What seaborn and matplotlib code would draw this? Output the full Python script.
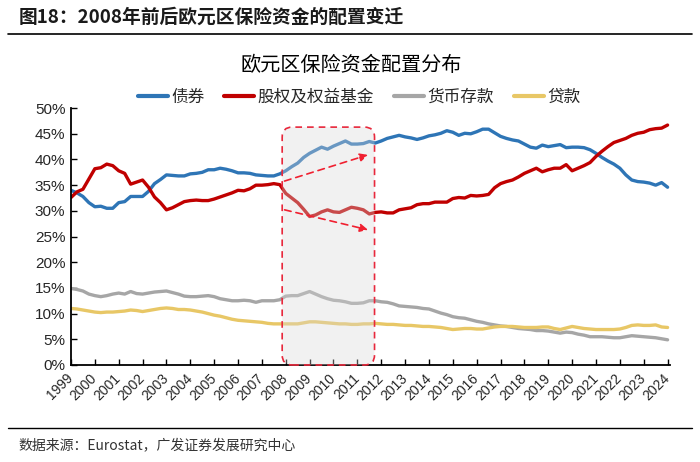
import numpy as np
import pandas as pd
import matplotlib.pyplot as plt
import seaborn as sns
from matplotlib.patches import FancyBboxPatch
from matplotlib.lines import Line2D
from matplotlib.ticker import FuncFormatter

sns.set_style("ticks")
plt.rcParams['font.family'] = ['Noto Sans CJK SC', 'DejaVu Sans']

# 季度数据 1999Q1 - 2024Q1（单位：%）
quarters = 1999 + np.arange(101) / 4.0
assets = ['债券', '股权及权益基金', '货币存款', '贷款']
colors = ['#2E75B6', '#C00000', '#A6A6A6', '#E8C766']
year_labels = [str(y) for y in range(1999, 2025)]

bonds = [34.0, 33.5, 32.8, 31.6, 30.8, 30.9, 30.5, 30.5, 31.6, 31.8,
         32.8, 32.8, 32.8, 33.8, 35.3, 36.1, 37.0, 36.9, 36.8, 36.8,
         37.2, 37.3, 37.5, 38.0, 38.0, 38.3, 38.1, 37.8, 37.4, 37.4,
         37.3, 37.0, 36.9, 36.8, 36.8, 37.2, 37.8, 38.6, 39.3, 40.4,
         41.2, 41.8, 42.4, 42.0, 42.6, 43.1, 43.6, 43.0, 43.0, 43.1,
         43.5, 43.2, 43.6, 44.1, 44.4, 44.7, 44.4, 44.2, 43.9, 44.2,
         44.6, 44.8, 45.1, 45.6, 45.3, 44.7, 45.1, 45.0, 45.4, 45.9,
         45.9, 45.2, 44.5, 44.1, 43.8, 43.6, 43.0, 42.4, 42.2, 42.8,
         42.5, 42.7, 42.9, 42.3, 42.4, 42.4, 42.3, 41.9, 41.2, 40.4,
         39.7, 39.1, 38.3, 37.0, 36.0, 35.7, 35.6, 35.4, 35.0, 35.5,
         34.6]
equity = [32.6, 33.7, 34.2, 36.2, 38.2, 38.4, 39.1, 38.8, 37.8, 37.3,
          35.2, 35.6, 36.0, 34.6, 32.7, 31.6, 30.2, 30.6, 31.2, 31.8,
          32.0, 32.1, 32.0, 32.0, 32.3, 32.7, 33.1, 33.5, 34.0, 33.9,
          34.3, 35.0, 35.0, 35.1, 35.3, 35.1, 33.4, 32.5, 31.6, 30.3,
          28.9, 29.2, 29.8, 30.2, 29.8, 29.7, 30.2, 30.7, 30.5, 30.2,
          29.4, 29.7, 29.8, 29.6, 29.6, 30.2, 30.4, 30.6, 31.2, 31.4,
          31.4, 31.7, 31.7, 31.7, 32.4, 32.6, 32.5, 33.0, 32.9, 33.0,
          33.2, 34.5, 35.3, 35.7, 36.0, 36.6, 37.3, 37.8, 38.3, 37.6,
          38.0, 38.3, 38.3, 39.0, 37.8, 38.3, 38.8, 39.4, 40.6, 41.6,
          42.5, 43.3, 43.7, 44.1, 44.7, 45.1, 45.3, 45.8, 46.0, 46.1,
          46.7]
deposits = [14.9, 14.7, 14.4, 13.8, 13.5, 13.3, 13.5, 13.8, 14.0, 13.8,
            14.3, 13.9, 13.8, 14.0, 14.2, 14.3, 14.4, 14.1, 13.8, 13.4,
            13.3, 13.3, 13.4, 13.5, 13.3, 12.9, 12.7, 12.5, 12.5, 12.6,
            12.5, 12.2, 12.5, 12.5, 12.5, 12.7, 13.4, 13.5, 13.5, 13.9,
            14.3, 13.8, 13.3, 12.9, 12.6, 12.5, 12.3, 12.0, 12.0, 12.1,
            12.5, 12.5, 12.3, 12.2, 11.9, 11.5, 11.4, 11.3, 11.2, 11.0,
            10.9, 10.5, 10.1, 9.8, 9.4, 9.2, 9.1, 8.8, 8.5, 8.3,
            8.0, 7.8, 7.6, 7.5, 7.3, 7.1, 7.0, 6.9, 6.7, 6.7,
            6.6, 6.4, 6.2, 6.4, 6.3, 6.0, 5.8, 5.5, 5.5, 5.5,
            5.4, 5.3, 5.3, 5.5, 5.7, 5.6, 5.5, 5.4, 5.3, 5.1,
            4.9]
loans = [11.0, 10.9, 10.7, 10.5, 10.3, 10.2, 10.3, 10.3, 10.4, 10.5,
         10.7, 10.6, 10.4, 10.6, 10.8, 11.0, 11.1, 11.0, 10.8, 10.8,
         10.7, 10.5, 10.3, 10.0, 9.7, 9.5, 9.2, 8.9, 8.7, 8.6,
         8.5, 8.4, 8.3, 8.1, 8.0, 8.0, 8.0, 8.0, 8.0, 8.2,
         8.4, 8.4, 8.3, 8.2, 8.1, 8.0, 8.0, 7.9, 7.9, 8.0,
         8.0, 8.1, 8.0, 7.9, 7.9, 7.8, 7.7, 7.7, 7.6, 7.5,
         7.5, 7.4, 7.3, 7.1, 6.9, 7.0, 7.1, 7.1, 7.0, 7.0,
         7.2, 7.4, 7.5, 7.5, 7.5, 7.4, 7.3, 7.3, 7.3, 7.4,
         7.4, 7.1, 6.9, 7.2, 7.5, 7.3, 7.1, 7.0, 6.9, 6.9,
         6.9, 6.9, 7.0, 7.3, 7.7, 7.8, 7.7, 7.7, 7.8, 7.4,
         7.3]

# 2008 前后的高亮区间与趋势箭头
box_start, box_end, box_top = 2007.85, 2011.72, 46.3
bond_arrow = [(2007.95, 35.8), (2011.45, 40.9)]
equity_arrow = [(2007.95, 30.2), (2011.45, 26.3)]

df = pd.DataFrame({
    'date': np.tile(quarters, 4),
    'share': np.concatenate([bonds, equity, deposits, loans]),
    'asset': np.repeat(assets, len(quarters)),
})

fig = plt.figure(figsize=(7, 4.62), dpi=100)
ax = fig.add_axes([0.1014, 0.21, 0.8557, 0.556])

sns.lineplot(data=df, x='date', y='share', hue='asset', hue_order=assets,
             palette=colors, linewidth=2.4, legend=False, ax=ax)

ax.set_xlim(1999, 2024.1)
ax.set_ylim(0, 50)
ax.set_yticks(np.arange(0, 51, 5))
ax.yaxis.set_major_formatter(FuncFormatter(lambda v, p: f'{v:.0f}%'))
ax.set_xticks(range(1999, 2025))
ax.set_xticklabels(year_labels, rotation=45, ha='right', va='center',
                   rotation_mode='anchor', family=['Liberation Sans'], fontsize=10)
for lab in ax.get_yticklabels():
    lab.set_family(['Liberation Sans'])
    lab.set_fontsize(11)
ax.tick_params(axis='both', direction='in', length=4, width=1, color='black')
ax.tick_params(axis='x', pad=8)
ax.tick_params(axis='y', pad=4)
ax.set_xlabel('')
ax.set_ylabel('')
sns.despine(ax=ax)
for s in ['left', 'bottom']:
    ax.spines[s].set_linewidth(1.3)
    ax.spines[s].set_color('black')

# 高亮区域（半透明灰底 + 红色虚线圆角框）
x_px = ax.get_window_extent().width / (ax.get_xlim()[1] - ax.get_xlim()[0])
y_px = ax.get_window_extent().height / (ax.get_ylim()[1] - ax.get_ylim()[0])
box = FancyBboxPatch((box_start, 0), box_end - box_start, box_top,
                     boxstyle=f'round,pad=0,rounding_size={10 / x_px:.3f}',
                     mutation_aspect=x_px / y_px,
                     facecolor='#D9D9D9', alpha=0.35, edgecolor='none',
                     zorder=5, clip_on=False)
ax.add_patch(box)
box_edge = FancyBboxPatch((box_start, 0), box_end - box_start, box_top,
                          boxstyle=f'round,pad=0,rounding_size={10 / x_px:.3f}',
                          mutation_aspect=x_px / y_px,
                          facecolor='none', edgecolor='#E8283C', linestyle=(0, (4, 3)),
                          linewidth=1.2, zorder=6, clip_on=False)
ax.add_patch(box_edge)

for start, end in [bond_arrow, equity_arrow]:
    ax.annotate('', xy=end, xytext=start, zorder=7,
                arrowprops=dict(arrowstyle='-|>', color='#F02030', lw=1.2,
                                linestyle=(0, (4, 3)), mutation_scale=12,
                                shrinkA=0, shrinkB=0))

# 图例
handles = [Line2D([], [], color=c, lw=3) for c in colors]
fig.legend(handles, assets, loc='center', bbox_to_anchor=(0.513, 0.79), ncol=4,
           frameon=False, fontsize=12, handlelength=1.8, handletextpad=0.2,
           columnspacing=1.2)

# 标题与页眉页脚
fig.text(0.026, 0.962, '图18：2008年前后欧元区保险资金的配置变迁', fontsize=13.5,
         fontweight='bold', color='#1A1A1A', va='center', ha='left')
fig.add_artist(Line2D([0.011, 0.989], [0.926, 0.926], color='black', lw=1.2))
fig.text(0.502, 0.859, '欧元区保险资金配置分布', fontsize=14.5, color='black',
         ha='center', va='center')
fig.add_artist(Line2D([0.011, 0.989], [0.074, 0.074], color='black', lw=1.0))
fig.text(0.026, 0.037, '数据来源：Eurostat，广发证券发展研究中心', fontsize=10,
         color='#333333', va='center', ha='left')

plt.savefig('out.png', dpi=100)
plt.close()
